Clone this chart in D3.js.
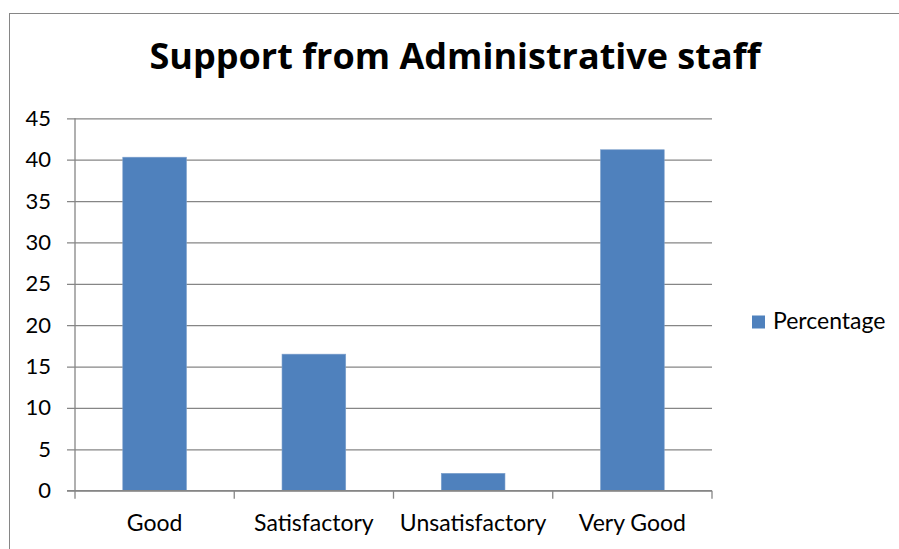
<!DOCTYPE html>
<html><head><meta charset="utf-8">
<script src="https://cdn.jsdelivr.net/npm/d3@7"></script>
<style>
html,body{margin:0;padding:0;background:#fff;}
svg{display:block;}
text{font-family:Lato,"Open Sans",sans-serif;fill:#000;}
</style></head>
<body>
<svg id="chart" width="899" height="549"></svg>
<script>
const categories = ["Good","Satisfactory","Unsatisfactory","Very Good"];
const percentage = [40.3, 16.5, 2.1, 41.2];
const yTicks = [0,5,10,15,20,25,30,35,40,45];
const seriesName = "Percentage";
const titleText = "Support from Administrative staff";

const svg = d3.select("#chart");
const W = 899, H = 549;
const gridColor = "#868686";
const barColor = "#4F81BD";

// outer frame
svg.append("rect").attr("x",9.5).attr("y",13.5).attr("width",W+10).attr("height",H+10)
  .attr("fill","none").attr("stroke",gridColor).attr("stroke-width",1);

const x0 = 75, x1 = 712, yTop = 118.3, yBot = 490.7;
const x = d3.scaleBand().domain(categories).range([x0,x1]).paddingInner(0.6).paddingOuter(0.3);
const y = d3.scaleLinear().domain([0,45]).range([yBot,yTop]);

// gridlines + y axis
const yAxis = d3.axisLeft(y).tickValues(yTicks).tickSize(8).tickPadding(16).tickFormat(d3.format("d"));
const gy = svg.append("g").attr("transform",`translate(${x0},0)`).call(yAxis);
gy.select(".domain").remove();
gy.selectAll(".tick line").attr("x2",x1-x0).attr("x1",-8).attr("stroke",gridColor).attr("stroke-width",1.3);
gy.selectAll(".tick text").style("font-size","22px").attr("font-family","Lato");
svg.append("line").attr("x1",x0).attr("x2",x0).attr("y1",yTop).attr("y2",yBot)
  .attr("stroke",gridColor).attr("stroke-width",1.3);

// bars
svg.append("g").selectAll("rect").data(categories).join("rect")
  .attr("x",d=>x(d)).attr("width",x.bandwidth())
  .attr("y",(d,i)=>y(percentage[i])).attr("height",(d,i)=>y(0)-y(percentage[i]))
  .attr("fill",barColor).attr("stroke","#7FA1CC").attr("stroke-width",0.6);

// x axis
const gx = svg.append("g").attr("transform",`translate(0,${yBot})`)
  .call(d3.axisBottom(x).tickSize(0).tickPadding(24));
gx.select(".domain").remove();
gx.selectAll(".tick text").style("font-size","23px").attr("font-family","Lato");
svg.append("line").attr("x1",x0-8).attr("x2",x1).attr("y1",yBot).attr("y2",yBot)
  .attr("stroke",gridColor).attr("stroke-width",1.3);
const bounds = d3.range(categories.length+1).map(i=>x0 + i*x.step());
svg.append("g").selectAll("line").data(bounds).join("line")
  .attr("x1",d=>d).attr("x2",d=>d).attr("y1",yBot).attr("y2",yBot+8)
  .attr("stroke",gridColor).attr("stroke-width",1.3);

// title
svg.append("text").attr("x",455).attr("y",69).attr("text-anchor","middle")
  .style("font-family","'Open Sans'").style("font-size","36px").style("font-weight","bold").text(titleText);

// legend
const lg = svg.append("g");
lg.append("rect").attr("x",752).attr("y",315.5).attr("width",13).attr("height",13).attr("fill",barColor);
lg.append("text").attr("x",773).attr("y",329).style("font-size","23px").text(seriesName);
</script>
</body></html>
